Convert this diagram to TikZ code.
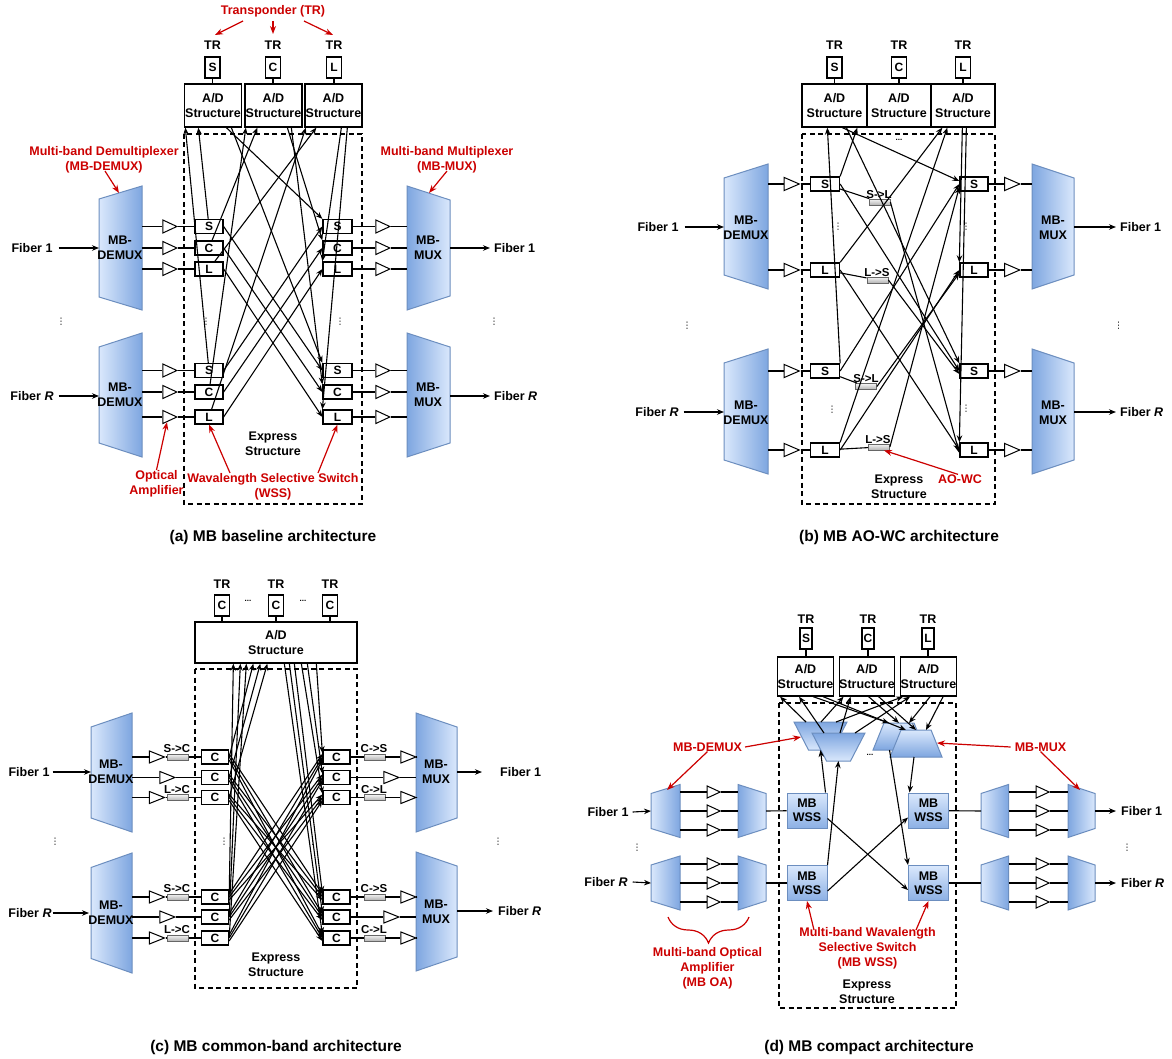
\documentclass[tikz,border=0pt]{standalone}
\usepackage{fontspec}
\setmainfont{Liberation Sans}
\newfontfamily\symfont{DejaVu Sans}
\usetikzlibrary{arrows.meta,shapes.geometric,decorations.pathreplacing}

\definecolor{rd}{RGB}{204,0,0}
\definecolor{blight}{HTML}{DAE8FC}
\definecolor{bdark}{HTML}{7EA6E0}
\definecolor{bstroke}{HTML}{6C8EBF}
\definecolor{glight}{HTML}{F5F5F5}
\definecolor{gdark}{HTML}{B3B3B3}
\definecolor{gstroke}{HTML}{666666}

% horizontal trapezoid: style, x left, x right, y centre, half height left, half height right
\newcommand{\trapH}[6]{\path[#1] (#2,#4-#5) -- (#3,#4-#6) -- (#3,#4+#6) -- (#2,#4+#5) -- cycle;}

\tikzset{
  txt/.style={font=\bfseries\fontsize{12.5}{15}\selectfont, inner sep=0pt, align=center},
  redtxt/.style={txt, text=rd},
  captxt/.style={font=\bfseries\fontsize{15.5}{18}\selectfont, inner sep=0pt},
  smalltxt/.style={font=\bfseries\fontsize{11.5}{13}\selectfont, inner sep=0pt},
  dotstxt/.style={font=\symfont\fontsize{9}{9}\selectfont, inner sep=0pt},
  elltxt/.style={font=\bfseries\fontsize{8}{8}\selectfont, inner sep=0pt},
  box/.style={draw, line width=1.3pt, fill=white, inner sep=0pt, font=\bfseries\fontsize{12}{14}\selectfont},
  adbox/.style={box, align=center, font=\bfseries\fontsize{12.5}{15}\selectfont},
  trbox/.style={box, minimum width=15pt, minimum height=21pt},
  wss/.style={box, minimum width=28pt, minimum height=14pt},
  amp/.style={isosceles triangle, isosceles triangle stretches, draw, fill=white, inner sep=0pt,
    line width=1pt, minimum width=13pt, minimum height=14pt},
  conv/.style={draw=gstroke, line width=0.8pt, top color=glight, bottom color=gdark,
    minimum width=21pt, minimum height=6pt, inner sep=0pt},
  mbwss/.style={draw=bstroke, line width=1pt, top color=blight, bottom color=bdark!85!blight,
    minimum width=40pt, minimum height=35pt, inner sep=0pt, align=center,
    font=\bfseries\fontsize{12.5}{14}\selectfont},
  link/.style={line width=1.1pt},
  arr/.style={link, -{Stealth[length=7pt,width=5.5pt]}},
  redarr/.style={line width=1.2pt, draw=rd, -{Stealth[length=8pt,width=6pt]}},
  dashbox/.style={line width=1.2pt, dash pattern=on 5pt off 3.5pt},
  demuxsh/.style={draw=bstroke, line width=1pt, left color=blight, right color=bdark},
  muxsh/.style={draw=bstroke, line width=1pt, left color=bdark, right color=blight},
  dmv/.style={draw=bstroke, line width=1pt, top color=bdark, bottom color=blight},
  mxv/.style={draw=bstroke, line width=1pt, top color=blight, bottom color=bdark},
}

\begin{document}
\begin{tikzpicture}[x=1pt,y=-1pt]
\path[use as bounding box, fill=white] (0,0) rectangle (1172,1059);

% =====================================================================
% (a) MB baseline architecture
% =====================================================================
\node[redtxt] (tpA) at (273,11) {Transponder (TR)};
\coordinate (tpA1) at (243,21); \coordinate (tpA1e) at (215,35);
\coordinate (tpA2) at (273,21); \coordinate (tpA2e) at (273,34);
\coordinate (tpA3) at (304,21); \coordinate (tpA3e) at (333,35);
\draw[redarr] (tpA1) -- (tpA1e);
\draw[redarr] (tpA2) -- (tpA2e);
\draw[redarr] (tpA3) -- (tpA3e);

\foreach \b/\B/\x in {s/S/212.5,c/C/273,l/L/334}{
  \node[txt] (trA\b) at (\x,45) {TR};
  \node[trbox] (tbA\b) at (\x,67.5) {\B};
}
\node[adbox, minimum width=57pt, minimum height=43pt] (adAs) at (213,105.5) {A/D\\Structure};
\node[adbox, minimum width=57pt, minimum height=43pt] (adAc) at (273.5,105.5) {A/D\\Structure};
\node[adbox, minimum width=57pt, minimum height=43pt] (adAl) at (333.5,105.5) {A/D\\Structure};
\foreach \b in {s,c,l} \draw[link] (tbA\b) -- (tbA\b |- adA\b.north);

\draw[dashbox] (184,134) rectangle (362,504);

\trapH{demuxsh}{99}{142}{248}{49}{62}
\trapH{demuxsh}{99}{142}{395}{48}{62}
\trapH{muxsh}{407}{450}{248}{62}{48}
\trapH{muxsh}{407}{450}{395}{62}{48}
\node[txt] (dmAt1) at (120,248) {MB-\\DEMUX};
\node[txt] (dmAtR) at (120,395) {MB-\\DEMUX};
\node[txt] (mxAt1) at (428,248) {MB-\\MUX};
\node[txt] (mxAtR) at (428,395) {MB-\\MUX};

\node[txt] (fA1) at (32,248) {Fiber 1};
\coordinate (dmA1in) at (99,248);
\draw[arr] ([xshift=6pt]fA1.east) -- (dmA1in);
\node[txt] (fAR) at (32,396) {Fiber \textit{R}};
\coordinate (dmARin) at (99,396);
\draw[arr] ([xshift=5pt]fAR.east) -- (dmARin);
\node[txt, anchor=west] (gA1) at (494,248) {Fiber 1};
\coordinate (mxA1out) at (450,248);
\draw[arr] (mxA1out) -- ([xshift=-4pt]gA1.west);
\node[txt, anchor=west] (gAR) at (494,396) {Fiber \textit{R}};
\coordinate (mxARout) at (450,396);
\draw[arr] (mxARout) -- ([xshift=-4pt]gAR.west);

\foreach \f/\b/\B/\y in {1/s/S/226.5,1/c/C/248,1/l/L/269,R/s/S/370.5,R/c/C/392,R/l/L/417}{
  \coordinate (pA\f\b) at (142,\y);
  \node[amp] (aA\f\b) at (167,\y) {};
  \node[wss] (wA\f\b) at (209,\y) {\B};
  \draw[link] (pA\f\b) -- (aA\f\b) -- (wA\f\b);
  \node[wss, minimum width=29pt] (vA\f\b) at (337.5,\y) {\B};
  \node[amp] (bA\f\b) at (380,\y) {};
  \coordinate (qA\f\b) at (407,\y);
  \draw[link] (vA\f\b) -- (bA\f\b) -- (qA\f\b);
}

% drop paths to the A/D structures
\draw[arr] (wA1s) -- ([xshift=14.5pt]adAs.south west);
\draw[arr] (wARs) -- ([xshift=1.5pt]adAs.south west);
\draw[arr] (wA1c) -- ([xshift=13pt]adAc.south west);
\draw[arr] (wARc) -- ([xshift=1.5pt]adAc.south west);
\draw[arr] (wA1l) -- ([xshift=12pt]adAl.south west);
\draw[arr] (wARl) -- ([xshift=1.5pt]adAl.south west);
% add paths from the A/D structures
\draw[arr] ([xshift=42.5pt]adAs.south west) -- (vA1s.north west);
\draw[arr] ([xshift=47.5pt]adAs.south west) -- (vARs.north west);
\draw[arr] ([xshift=43pt]adAc.south west) -- (vA1c.north west);
\draw[arr] ([xshift=47pt]adAc.south west) -- (vARc.north west);
\draw[arr] ([xshift=37pt]adAl.south west) -- (vA1l.north west);
\draw[arr] ([xshift=43pt]adAl.south west) -- (vARl.north west);
% express paths between fibres
\foreach \b in {s,c,l}{
  \draw[arr] (wA1\b.east) -- (vAR\b.west);
  \draw[arr] (wAR\b.east) -- (vA1\b.west);
}

\node[dotstxt] (dtA1) at (61,322) {⋮};
\node[dotstxt] (dtA2) at (206,322) {⋮};
\node[dotstxt] (dtA3) at (340,322) {⋮};
\node[dotstxt] (dtA4) at (494,322) {⋮};

\node[txt] (exA) at (273,443.5) {Express\\Structure};
\node[redtxt] (oaA) at (156.5,483.5) {Optical\\Amplifier};
\draw[redarr] (oaA.north) -- (aARl.south);
\node[redtxt] (wsA) at (273,486.5) {Wavalength Selective Switch\\(WSS)};
\draw[redarr] ([xshift=-43pt]wsA.north) -- (wARl.south);
\draw[redarr] ([xshift=45pt]wsA.north) -- (vARl.south);
\node[redtxt] (dmxA) at (104,159.5) {Multi-band Demultiplexer\\(MB-DEMUX)};
\coordinate (dmA1top) at (119,193);
\draw[redarr] ([xshift=1pt,yshift=2pt]dmxA.south) -- (dmA1top);
\node[redtxt] (mxxA) at (447,159.5) {Multi-band Multiplexer\\(MB-MUX)};
\coordinate (mxA1top) at (429,193);
\draw[redarr] ([yshift=2pt]mxxA.south) -- (mxA1top);

\node[captxt] (capA) at (273,537) {(a) MB baseline architecture};

% =====================================================================
% (b) MB AO-WC architecture
% =====================================================================
\foreach \b/\B/\x in {s/S/834.5,c/C/899,l/L/963}{
  \node[txt] (trB\b) at (\x,45) {TR};
  \node[trbox] (tbB\b) at (\x,67.5) {\B};
}
\node[adbox, minimum width=65pt, minimum height=43pt] (adBs) at (834.5,105.5) {A/D\\Structure};
\node[adbox, minimum width=64pt, minimum height=43pt] (adBc) at (899,105.5) {A/D\\Structure};
\node[adbox, minimum width=64pt, minimum height=43pt] (adBl) at (963,105.5) {A/D\\Structure};
\foreach \b in {s,c,l} \draw[link] (tbB\b) -- (tbB\b |- adB\b.north);

\draw[dashbox] (802,134) rectangle (995,504);
\node[elltxt] (elB) at (899,140) {...};

\trapH{demuxsh}{724}{768}{226.5}{48.5}{62.5}
\trapH{demuxsh}{724}{768}{411.5}{48.5}{62.5}
\trapH{muxsh}{1032}{1074}{226.5}{62.5}{48.5}
\trapH{muxsh}{1032}{1074}{411.5}{62.5}{48.5}
\node[txt] (dmBt1) at (746,227.5) {MB-\\DEMUX};
\node[txt] (dmBtR) at (746,412.5) {MB-\\DEMUX};
\node[txt] (mxBt1) at (1053,227.5) {MB-\\MUX};
\node[txt] (mxBtR) at (1053,412.5) {MB-\\MUX};

\node[txt] (fB1) at (658,227) {Fiber 1};
\coordinate (dmB1in) at (724,227);
\draw[arr] ([xshift=6pt]fB1.east) -- (dmB1in);
\node[txt] (fBR) at (657,412) {Fiber \textit{R}};
\coordinate (dmBRin) at (724,412);
\draw[arr] ([xshift=5pt]fBR.east) -- (dmBRin);
\node[txt, anchor=west] (gB1) at (1120,227) {Fiber 1};
\coordinate (mxB1out) at (1074,227);
\draw[arr] (mxB1out) -- ([xshift=-4pt]gB1.west);
\node[txt, anchor=west] (gBR) at (1120,412) {Fiber \textit{R}};
\coordinate (mxBRout) at (1074,412);
\draw[arr] (mxBRout) -- ([xshift=-4pt]gBR.west);

\foreach \f/\b/\B/\y in {1/s/S/184,1/l/L/270,R/s/S/371,R/l/L/450}{
  \coordinate (pB\f\b) at (768,\y);
  \node[amp, minimum height=15pt] (aB\f\b) at (788.5,\y) {};
  \node[wss, minimum width=29pt] (wB\f\b) at (825,\y) {\B};
  \draw[link] (pB\f\b) -- (aB\f\b) -- (wB\f\b);
  \node[wss] (vB\f\b) at (974,\y) {\B};
  \node[amp, minimum height=15pt] (bB\f\b) at (1009,\y) {};
  \coordinate (qB\f\b) at (1032,\y);
  \draw[link] (vB\f\b) -- (bB\f\b) -- (qB\f\b);
}

% all-optical wavelength converters
\node[conv] (cB1s) at (879.5,202) {};
\node[smalltxt] (tB1s) at (879,194.5) {S->L};
\node[conv] (cB1l) at (877.5,280) {};
\node[smalltxt] (tB1l) at (877,272.5) {L->S};
\node[conv] (cBRs) at (866,386.5) {};
\node[smalltxt] (tBRs) at (866,379) {S->L};
\node[conv] (cBRl) at (879,447) {};
\node[smalltxt] (tBRl) at (878,439.5) {L->S};

% drop paths
\draw[arr] (wBRs.north east) -- ([xshift=26pt]adBs.south west);
\draw[arr] (wB1s.north east) -- ([xshift=56pt]adBs.south west);
\draw[arr] (wB1l.north east) -- ([xshift=12pt]adBl.south west);
\draw[arr] (wBRl.north east) -- ([xshift=17pt]adBl.south west);
% add paths
\draw[arr] ([xshift=41pt]adBs.south west) -- ([yshift=3pt]vB1s.west);
\draw[arr] ([xshift=45pt]adBs.south west) -- (vBRs.north west);
\draw[arr] ([xshift=32pt]adBl.south west) -- (vB1l.north west);
\draw[arr] ([xshift=36pt]adBl.south west) -- (vBRl.north west);
% express paths
\draw[arr] (wB1s.east) -- (vBRs.west);
\draw[arr] (wB1l.east) -- (vBRl.west);
\draw[arr] (wBRs.east) -- (vB1s.west);
\draw[arr] (wBRl.east) -- (vB1l.west);
% converted paths
\draw[link] (wB1s) -- (cB1s);
\draw[arr] (cB1s.east) -- ([yshift=-3pt]vBRl.west);
\draw[link] (wB1l) -- (cB1l);
\draw[arr] (cB1l.east) -- ([yshift=-3pt]vBRs.west);
\draw[link] (wBRs) -- (cBRs);
\draw[arr] (cBRs.east) -- ([yshift=-3pt]vB1l.west);
\draw[link] (wBRl) -- (cBRl);
\draw[arr] (cBRl.east) -- ([yshift=-3pt]vB1s.west);

\node[dotstxt] (dtB1) at (838,227) {⋮};
\node[dotstxt] (dtB2) at (832,410) {⋮};
\node[dotstxt] (dtB3) at (966,227) {⋮};
\node[dotstxt] (dtB4) at (966,409) {⋮};
\node[dotstxt] (dtB5) at (687,326) {⋮};
\node[dotstxt] (dtB6) at (1118.5,326) {⋮};

\node[txt] (exB) at (899,486.5) {Express\\Structure};
\node[redtxt] (aoB) at (960,479) {AO-WC};
\draw[redarr] ([xshift=-2pt]aoB.north) -- ([xshift=5pt]cBRl.south);

\node[captxt] (capB) at (899,537) {(b) MB AO-WC architecture};

% =====================================================================
% (c) MB common-band architecture
% =====================================================================
\foreach \k/\x in {a/222,b/276,c/330}{
  \node[txt] (trC\k) at (\x,584) {TR};
  \node[trbox] (tbC\k) at (\x,605.5) {C};
}
\node[elltxt] (elC1) at (248,601) {...};
\node[elltxt] (elC2) at (303,601) {...};
\node[adbox, minimum width=162pt, minimum height=41pt] (adC) at (276,642.5) {A/D\\Structure};
\foreach \k in {a,b,c} \draw[link] (tbC\k) -- (tbC\k |- adC.north);

\draw[dashbox] (195,669) rectangle (357,988);

\trapH{demuxsh}{91}{132}{772.5}{45.5}{59.5}
\trapH{demuxsh}{91}{132}{913}{45.5}{60}
\trapH{muxsh}{416}{457}{772.5}{59.5}{45.5}
\trapH{muxsh}{416}{457}{911.5}{59.5}{45.5}
\node[txt] (dmCt1) at (111,772) {MB-\\DEMUX};
\node[txt] (dmCtR) at (111,913) {MB-\\DEMUX};
\node[txt] (mxCt1) at (436,772) {MB-\\MUX};
\node[txt] (mxCtR) at (436,911.5) {MB-\\MUX};

\node[txt] (fC1) at (29,772) {Fiber 1};
\coordinate (dmC1in) at (91,772);
\draw[arr] ([xshift=3pt]fC1.east) -- (dmC1in);
\node[txt] (fCR) at (30,913) {Fiber \textit{R}};
\coordinate (dmCRin) at (89,913);
\draw[arr] ([xshift=1pt]fCR.east) -- (dmCRin);
\node[txt, anchor=west] (gC1) at (500,772) {Fiber 1};
\coordinate (mxC1out) at (457,772);
\coordinate (mxC1tip) at (482,772);
\draw[arr] (mxC1out) -- (mxC1tip);
\node[txt, anchor=west] (gCR) at (498,911) {Fiber \textit{R}};
\coordinate (mxCRout) at (457,911);
\draw[arr] (mxCRout) -- ([xshift=-5pt]gCR.west);

\foreach \f/\y/\ya/\yb in {1/757/777.5/797.5, R/897/917/938}{
  % converted rows
  \coordinate (pC\f a) at (132,\y);
  \node[amp, minimum height=15pt, minimum width=12pt] (aC\f a) at (153.5,\y) {};
  \node[conv] (kC\f a) at (178,\y) {};
  \node[wss, minimum width=27pt] (wC\f a) at (215,\y) {C};
  \draw[link] (pC\f a) -- (aC\f a) -- (kC\f a) -- (wC\f a);
  \coordinate (pC\f c) at (132,\yb);
  \node[amp, minimum height=15pt, minimum width=12pt] (aC\f c) at (153.5,\yb) {};
  \node[conv] (kC\f c) at (178,\yb) {};
  \node[wss, minimum width=27pt] (wC\f c) at (215,\yb) {C};
  \draw[link] (pC\f c) -- (aC\f c) -- (kC\f c) -- (wC\f c);
  % native C row
  \coordinate (pC\f b) at (132,\ya);
  \node[amp, minimum height=15pt, minimum width=12pt] (aC\f b) at (164,\ya) {};
  \node[wss, minimum width=27pt] (wC\f b) at (215,\ya) {C};
  \draw[link] (pC\f b) -- (aC\f b) -- (wC\f b);
  % output side
  \node[wss, minimum width=27pt] (vC\f a) at (336.5,\y) {C};
  \node[conv] (mC\f a) at (374.5,\y) {};
  \node[amp, minimum height=15pt, minimum width=12pt] (bC\f a) at (405,\y) {};
  \coordinate (qC\f a) at (416,\y);
  \draw[link] (vC\f a) -- (mC\f a) -- (bC\f a) -- (qC\f a);
  \node[wss, minimum width=27pt] (vC\f c) at (336.5,\yb) {C};
  \node[conv] (mC\f c) at (374.5,\yb) {};
  \node[amp, minimum height=15pt, minimum width=12pt] (bC\f c) at (405,\yb) {};
  \coordinate (qC\f c) at (416,\yb);
  \draw[link] (vC\f c) -- (mC\f c) -- (bC\f c) -- (qC\f c);
  \node[wss, minimum width=27pt] (vC\f b) at (336.5,\ya) {C};
  \node[amp, minimum height=15pt, minimum width=12pt] (bC\f b) at (388,\ya) {};
  \coordinate (qC\f b) at (416,\ya);
  \draw[link] (vC\f b) -- (bC\f b) -- (qC\f b);
  % converter labels
  \node[smalltxt] (lC\f a) at (177,\y-8) {S->C};
  \node[smalltxt] (lC\f c) at (177,\yb-8) {L->C};
  \node[smalltxt] (nC\f a) at (374,\y-8) {C->S};
  \node[smalltxt] (nC\f c) at (374,\yb-8) {C->L};
}

% drop paths
\draw[arr] (wCRa.east) -- ([xshift=39pt]adC.south west);
\draw[arr] (wCRb.east) -- ([xshift=46pt]adC.south west);
\draw[arr] (wCRc.east) -- ([xshift=52pt]adC.south west);
\draw[arr] (wC1a.east) -- ([xshift=59pt]adC.south west);
\draw[arr] (wC1b.east) -- ([xshift=66pt]adC.south west);
\draw[arr] (wC1c.east) -- ([xshift=73pt]adC.south west);
% add paths
\draw[arr] ([xshift=90pt]adC.south west) -- ([yshift=4pt]vCRc.west);
\draw[arr] ([xshift=95pt]adC.south west) -- ([yshift=4pt]vCRb.west);
\draw[arr] ([xshift=100pt]adC.south west) -- ([yshift=4pt]vCRa.west);
\draw[arr] ([xshift=107pt]adC.south west) -- ([yshift=4pt]vC1c.west);
\draw[arr] ([xshift=113pt]adC.south west) -- ([yshift=4pt]vC1b.west);
\draw[arr] ([xshift=122pt]adC.south west) -- ([yshift=4pt]vC1a.west);
% express paths, every input port to every output port of the other fibre
\foreach \i/\si in {a/3pt,b/0pt,c/-3pt}{
  \foreach \j/\sj in {a/3pt,b/0pt,c/-3pt}{
    \draw[arr] ([yshift=\sj]wC1\i.east) -- ([yshift=\si]vCR\j.west);
    \draw[arr] ([yshift=\sj]wCR\i.east) -- ([yshift=\si]vC1\j.west);
  }
}

\node[dotstxt] (dtC1) at (55,842) {⋮};
\node[dotstxt] (dtC2) at (224,842) {⋮};
\node[dotstxt] (dtC3) at (312.5,842) {⋮};
\node[dotstxt] (dtC4) at (498,842) {⋮};

\node[txt] (exC) at (276,964.5) {Express\\Structure};
\node[captxt] (capC) at (276,1047) {(c) MB common-band architecture};

% =====================================================================
% (d) MB compact architecture
% =====================================================================
\foreach \b/\B/\x in {s/S/806,c/C/868,l/L/928}{
  \node[txt] (trD\b) at (\x,619) {TR};
  \node[trbox, minimum width=12pt] (tbD\b) at (\x,638.5) {\B};
}
\node[adbox, minimum width=53pt, minimum height=39pt] (adDs) at (805.5,676.5) {A/D\\Structure};
\node[adbox, minimum width=54pt, minimum height=39pt] (adDc) at (867,676.5) {A/D\\Structure};
\node[adbox, minimum width=53pt, minimum height=39pt] (adDl) at (928.5,676.5) {A/D\\Structure};
\foreach \b in {s,c,l} \draw[link] (tbD\b) -- (tbD\b |- adD\b.north);

\draw[dashbox] (779,703) rectangle (956,1008);

% band demultiplexers and multiplexers inside the express structure
\path[dmv] (794,722) -- (847,722) -- (832.5,750) -- (808.5,750) -- cycle;
\path[dmv] (812,733) -- (865,733) -- (850.5,761) -- (826.5,761) -- cycle;
\path[mxv] (884,723) -- (914,723) -- (925,750) -- (873,750) -- cycle;
\path[mxv] (901,730) -- (931,730) -- (942,757) -- (890,757) -- cycle;
\node[elltxt] (elD) at (870,755) {...};

\coordinate (dDb1) at (806,722); \coordinate (dDb2) at (821,722); \coordinate (dDb3) at (836,722);
\coordinate (dDf1) at (824,733); \coordinate (dDf2) at (840,733); \coordinate (dDf3) at (855,733);
\coordinate (dDbB) at (820.5,750); \coordinate (dDfB) at (838.5,761);
\coordinate (mDb1) at (889,723); \coordinate (mDb2) at (899,723); \coordinate (mDb3) at (909,723);
\coordinate (mDf1) at (906,730); \coordinate (mDf2) at (916,730); \coordinate (mDf3) at (926,730);
\coordinate (mDbB) at (889.5,750); \coordinate (mDfB) at (914,757);

\draw[arr] (dDb1) -- ([xshift=3pt]adDs.south west);
\draw[arr] (dDf1) -- ([xshift=22pt]adDs.south west);
\draw[arr] (dDb2) -- ([xshift=5pt]adDc.south west);
\draw[arr] (dDf2) -- ([xshift=12pt]adDc.south west);
\draw[arr] (dDb3) -- ([xshift=3pt]adDl.south west);
\draw[arr] (dDf3) -- ([xshift=10pt]adDl.south west);
\draw[arr] ([xshift=36pt]adDs.south west) -- (mDb1);
\draw[arr] ([xshift=46pt]adDs.south west) -- (mDf1);
\draw[arr] ([xshift=30pt]adDc.south west) -- (mDb2);
\draw[arr] ([xshift=40pt]adDc.south west) -- (mDf2);
\draw[arr] ([xshift=30pt]adDl.south west) -- (mDb3);
\draw[arr] ([xshift=43pt]adDl.south west) -- (mDf3);

\node[mbwss] (mwL1) at (807,810.5) {MB\\WSS};
\node[mbwss] (mwLR) at (807,883) {MB\\WSS};
\node[mbwss] (mwR1) at (928.5,810.5) {MB\\WSS};
\node[mbwss] (mwRR) at (928.5,883) {MB\\WSS};

\draw[arr] ([xshift=-2pt]mwL1.north east) -- (dDbB);
\draw[arr] (mwLR.north east) -- (dDfB);
\draw[arr] (mDfB) -- ([xshift=1.5pt]mwR1.north west);
\draw[arr] (mDbB) -- (mwRR.north west);
\draw[arr] ([yshift=-8pt]mwL1.east) -- ([yshift=-7pt]mwRR.west);
\draw[arr] ([yshift=-8pt]mwLR.east) -- ([yshift=-7pt]mwR1.west);

% multi-band optical amplifier groups
\foreach \f/\y/\hs/\hl in {1/811/17.5/26.5, R/883/18/27}{
  \trapH{demuxsh}{651}{680}{\y}{\hs}{\hl}
  \trapH{muxsh}{738}{766}{\y}{\hl}{\hs}
  \trapH{demuxsh}{981}{1008.5}{\y}{\hs}{\hl}
  \trapH{muxsh}{1068}{1095}{\y}{\hl}{\hs}
  \foreach \k/\d in {a/-19,b/0,c/19}{
    \coordinate (oL\f\k) at (680,\y+\d);
    \node[amp, minimum height=13pt, minimum width=12pt] (oaL\f\k) at (711,\y+\d) {};
    \coordinate (iL\f\k) at (738,\y+\d);
    \draw[link] (oL\f\k) -- (oaL\f\k) -- (iL\f\k);
    \coordinate (oR\f\k) at (1008.5,\y+\d);
    \node[amp, minimum height=13pt, minimum width=12pt] (oaR\f\k) at (1040,\y+\d) {};
    \coordinate (iR\f\k) at (1068,\y+\d);
    \draw[link] (oR\f\k) -- (oaR\f\k) -- (iR\f\k);
  }
  \coordinate (oL\f out) at (766,\y);
  \coordinate (oL\f in) at (651,\y);
  \coordinate (oR\f in) at (981,\y);
  \coordinate (oR\f out) at (1095,\y);
}
\draw[link] (oL1out) -- (mwL1);
\draw[link] (oLRout) -- (mwLR);
\draw[link] (mwR1) -- (oR1in);
\draw[link] (mwRR) -- (oRRin);

\node[txt] (fD1) at (608,812) {Fiber 1};
\draw[arr] ([xshift=4pt]fD1.east) -- (oL1in);
\node[txt] (fDR) at (606,882) {Fiber \textit{R}};
\draw[arr] ([xshift=5pt]fDR.east) -- (oLRin);
\node[txt, anchor=west] (gD1) at (1121,811) {Fiber 1};
\draw[arr] (oR1out) -- ([xshift=-5pt]gD1.west);
\node[txt, anchor=west] (gDR) at (1121,883) {Fiber \textit{R}};
\draw[arr] (oRRout) -- ([xshift=-5pt]gDR.west);

\node[dotstxt] (dtD1) at (637,848) {⋮};
\node[dotstxt] (dtD2) at (1127,848) {⋮};

% annotations
\node[redtxt] (dmxD) at (707.5,747) {MB-DEMUX};
\coordinate (dmxDt1) at (801,737);
\coordinate (dmxDt2) at (667,790);
\draw[redarr] ([xshift=3pt]dmxD.east) -- (dmxDt1);
\draw[redarr] (dmxD.south) -- (dmxDt2);
\node[redtxt] (mxxD) at (1040.5,747) {MB-MUX};
\coordinate (mxxDt1) at (937,743);
\coordinate (mxxDt2) at (1080,790);
\draw[redarr] ([xshift=-4pt]mxxD.west) -- (mxxDt1);
\draw[redarr] (mxxD.south) -- (mxxDt2);

\coordinate (brA) at (668,917); \coordinate (brB) at (749,917);
\draw[draw=rd, line width=1.2pt, decorate, decoration={brace, mirror, amplitude=26pt}] (brA) -- (brB);
\node[redtxt] (oaD) at (707.5,968.5) {Multi-band Optical\\Amplifier\\(MB OA)};
\node[redtxt] (wsD) at (867.5,948) {Multi-band Wavalength\\Selective Switch\\(MB WSS)};
\coordinate (wsDa) at (814,930); \coordinate (wsDb) at (916,930);
\draw[redarr] (wsDa) -- (mwLR.south);
\draw[redarr] (wsDb) -- (mwRR.south);

\node[txt] (exD) at (867,991.5) {Express\\Structure};
\node[captxt] (capD) at (869,1047) {(d) MB compact architecture};

\end{tikzpicture}
\end{document}
